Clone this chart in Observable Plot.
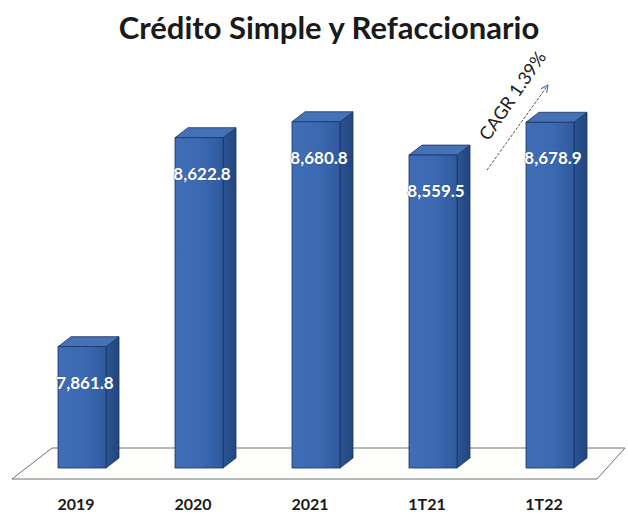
<!DOCTYPE html>
<html><head><meta charset="utf-8">
<script src="https://cdn.jsdelivr.net/npm/d3@7"></script>
<script src="https://cdn.jsdelivr.net/npm/@observablehq/plot@0.6"></script>
<style>
body{margin:0;background:#fff;font-family:Lato,"Open Sans",sans-serif;}
#title{height:30px;padding-top:10px;line-height:34px;text-align:center;padding-left:30px;font-weight:bold;font-size:31px;color:#1a1a1a;white-space:nowrap;}
#chart svg{display:block;overflow:visible;}
</style></head><body>
<div id="title">Crédito Simple y Refaccionario</div>
<div id="chart"></div>
<script>
const categories = ["2019", "2020", "2021", "1T21", "1T22"];
const values = [7861.8, 8622.8, 8680.8, 8559.5, 8678.9];
const valueLabels = ["7,861.8", "8,622.8", "8,680.8", "8,559.5", "8,678.9"];
const cagrLabel = "CAGR 1.39%";
const axisMin = 7420, axisMax = 8700;

const data = categories.map((c, i) => ({cat: c, value: values[i], label: valueLabels[i]}));

const INSET_L = 34, INSET_R = 35;   // front face inset in band
const DX = 13, DY = -10;            // depth of the 3D box

function bandStep(x) {
  return x(categories[1]) - x(categories[0]);
}

// floor of the 3D chart
function floorMark(index, scales) {
  const {x, y} = scales;
  const step = bandStep(x);
  const left = x(categories[0]), right = x(categories[categories.length - 1]) + step;
  const yb = y(axisMin);
  const g = d3.create("svg:g");
  g.append("path")
    .attr("d", `M${left - 12},${yb + 11}L${left + 28},${yb - 20}L${right + 16},${yb - 20}L${right - 12},${yb + 11}Z`)
    .attr("fill", "#fefefc").attr("stroke", "#707070").attr("stroke-width", 1);
  return g.node();
}

// side and top faces of every bar
function extrusionMark(index, scales) {
  const {x, y} = scales;
  const step = bandStep(x);
  const g = d3.create("svg:g");
  for (const d of data) {
    const x0 = x(d.cat) + INSET_L, x1 = x(d.cat) + step - INSET_R;
    const yt = y(d.value), yb = y(axisMin);
    g.append("path")
      .attr("d", `M${x1},${yt}L${x1 + DX},${yt + DY}L${x1 + DX},${yb + DY}L${x1},${yb}Z`)
      .attr("fill", "url(#sideGrad)").attr("stroke", "#1b3363").attr("stroke-width", 0.8);
    g.append("path")
      .attr("d", `M${x0},${yt}L${x0 + DX},${yt + DY}L${x1 + DX},${yt + DY}L${x1},${yt}Z`)
      .attr("fill", "#4571b6").attr("stroke", "#1b3363").attr("stroke-width", 0.8);
  }
  return g.node();
}

// CAGR arrow and label between the last two bars
function cagrMark(index, scales) {
  const {x, y} = scales;
  const bx = x("1T22");
  const g = d3.create("svg:g");
  const x1 = bx - 5, y1 = y(8505), x2 = bx + 56, y2 = y(8815);
  g.append("line").attr("x1", x1).attr("y1", y1).attr("x2", x2).attr("y2", y2)
    .attr("stroke", "#555").attr("stroke-width", 1).attr("stroke-dasharray", "3,1.5");
  const ang = Math.atan2(y2 - y1, x2 - x1);
  const hl = 8;
  for (const s of [-1, 1]) {
    const a = ang + Math.PI + s * 0.45;
    g.append("line").attr("x1", x2).attr("y1", y2)
      .attr("x2", x2 + hl * Math.cos(a)).attr("y2", y2 + hl * Math.sin(a))
      .attr("stroke", "#4a78b8").attr("stroke-width", 1.2);
  }
  g.append("text")
    .attr("transform", `translate(${bx + 22},${y(8772)}) rotate(-55.5)`)
    .attr("text-anchor", "middle").attr("dominant-baseline", "middle")
    .attr("font-family", "Lato, 'Open Sans', sans-serif").attr("font-size", 18)
    .attr("fill", "#222").text(cagrLabel);
  return g.node();
}

const chart = Plot.plot({
  width: 628,
  height: 476,
  margin: 0,
  x: {type: "band", domain: categories, range: [24, 609], padding: 0, axis: null},
  y: {domain: [axisMin, axisMax], range: [428, 76.5], axis: null},
  marks: [
    floorMark,
    extrusionMark,
    Plot.barY(data, {
      x: "cat", y1: () => axisMin, y2: "value",
      insetLeft: INSET_L, insetRight: INSET_R,
      fill: "url(#frontGrad)", stroke: "#1b3363", strokeWidth: 0.8
    }),
    Plot.text(data, {
      x: "cat", y: "value", text: "label", dy: 36, dx: 2,
      fill: "white", fontWeight: "bold", fontSize: 17,
      fontFamily: "Lato, 'Open Sans', sans-serif",
      stroke: "#34507f", strokeWidth: 1.2, strokeOpacity: 0.55
    }),
    Plot.text(categories, {
      x: d => d, frameAnchor: "bottom", dy: -7, dx: -7,
      fill: "#1a1a1a", fontWeight: "bold", fontSize: 16,
      fontFamily: "Lato, 'Open Sans', sans-serif"
    }),
    cagrMark
  ]
});

const defs = d3.select(chart).insert("defs", ":first-child");
const fg = defs.append("linearGradient").attr("id", "frontGrad").attr("x1", 0).attr("x2", 1).attr("y1", 0).attr("y2", 0);
fg.append("stop").attr("offset", 0).attr("stop-color", "#3f6db6");
fg.append("stop").attr("offset", 0.55).attr("stop-color", "#3c69b2");
fg.append("stop").attr("offset", 1).attr("stop-color", "#2f5a9f");
const sg = defs.append("linearGradient").attr("id", "sideGrad").attr("x1", 0).attr("x2", 1).attr("y1", 0).attr("y2", 0);
sg.append("stop").attr("offset", 0).attr("stop-color", "#2b5493");
sg.append("stop").attr("offset", 1).attr("stop-color", "#22467f");

document.getElementById("chart").appendChild(chart);
</script>
</body></html>
